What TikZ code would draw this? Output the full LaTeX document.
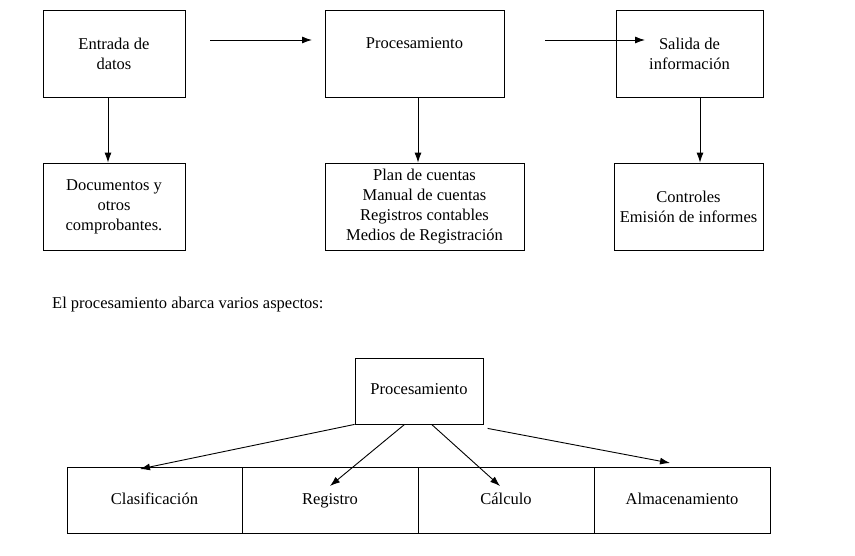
\documentclass[tikz,border=0pt]{standalone}
\usepackage{fontspec}
\setmainfont{Liberation Serif}
\usetikzlibrary{arrows.meta}
\begin{document}
\begin{tikzpicture}[x=1pt,y=-1pt,
  box/.style={draw,line width=0.8pt,inner sep=0pt,align=center,font=\fontsize{16.5}{20}\selectfont},
  row/.style={box,text height=12pt,text depth=4pt},
  arr/.style={-{Latex[length=10pt,width=7pt]},line width=0.9pt}]
\useasboundingbox (0,0) rectangle (855,556);
\node[box,minimum width=142,minimum height=87] (ent) at (114,53.5) {Entrada de\\datos};
\node[box,minimum width=179,minimum height=87] (proc) at (414.5,53.5) {};
\node[font=\fontsize{16.5}{20}\selectfont,inner sep=0pt] (proct) at ([yshift=10]proc.center) {Procesamiento};
\node[box,minimum width=147,minimum height=87] (sal) at (689.5,53.5) {Salida de\\información};
\node[box,minimum width=142,minimum height=87] (doc) at (114,206.5) {Documentos y\\otros\\comprobantes.};
\node[box,minimum width=199,minimum height=87] (plan) at (424.5,206.5) {Plan de cuentas\\Manual de cuentas\\Registros contables\\Medios de Registración};
\node[box,minimum width=149,minimum height=87] (ctl) at (688.5,206.5) {Controles\\Emisión de informes};
\coordinate (a1) at (210,40); \coordinate (a2) at (312,40);
\coordinate (b1) at (545,40); \coordinate (b2) at (645,40);
\draw[arr] (a1) -- (a2);
\draw[arr] (b1) -- (b2);
\draw[arr] (ent.south-|108,0) -- (doc.north-|108,0);
\draw[arr] (proc.south-|418,0) -- (plan.north-|418,0);
\draw[arr] (sal.south-|700,0) -- (ctl.north-|700,0);
\node[anchor=west,font=\fontsize{16.5}{20}\selectfont,inner sep=0pt] (txt) at (52,305) {El procesamiento abarca varios aspectos:};
\node[row,minimum width=128,minimum height=66] (p2) at (419,391) {Procesamiento};
\node[row,minimum width=175,minimum height=66] (c1) at (154.5,500) {Clasificación};
\node[row,minimum width=176,minimum height=66] (c2) at (330,500) {Registro};
\node[row,minimum width=176,minimum height=66] (c3) at (506,500) {Cálculo};
\node[row,minimum width=176,minimum height=66] (c4) at (682,500) {Almacenamiento};
\draw[arr] (p2.south west) -- (140,469);
\draw[arr] ([xshift=50]p2.south west) -- (330,486);
\draw[arr] ([xshift=77]p2.south west) -- (500,486);
\draw[arr] ([xshift=133,yshift=-4]p2.south west) -- (670,463);
\end{tikzpicture}
\end{document}
